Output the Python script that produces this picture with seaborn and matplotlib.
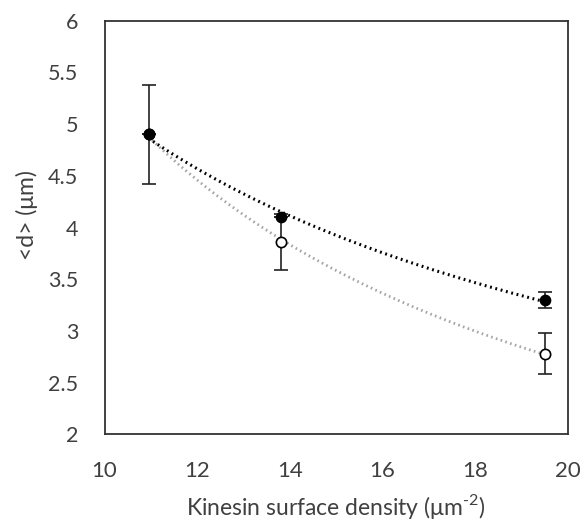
import numpy as np
import pandas as pd
import matplotlib
matplotlib.use("Agg")
import matplotlib.pyplot as plt
import seaborn as sns

# Data
density = [10.95, 13.8, 19.5]
d_filled = [4.90, 4.10, 3.30]
err_filled = [0.475, 0.0, 0.075]
d_open = [4.90, 3.86, 2.78]
err_open = [0.0, 0.27, 0.195]

xticks = [10, 12, 14, 16, 18, 20]
yticks = [2, 2.5, 3, 3.5, 4, 4.5, 5, 5.5, 6]
ytick_labels = ["2", "2.5", "3", "3.5", "4", "4.5", "5", "5.5", "6"]

sns.set_theme(style="white")
plt.rcParams['font.family'] = ['Lato', 'DejaVu Sans']
plt.rcParams['mathtext.fontset'] = 'custom'
plt.rcParams['mathtext.rm'] = 'Lato'

fig = plt.figure(figsize=(5.84, 5.25), dpi=100)
ax = fig.add_axes([104.5/584, 1-434.3/525, (567.7-104.5)/584, (434.3-20.7)/525])

# power-law trendlines (like spreadsheet trendlines) fitted to the data
def power_fit(x, y):
    b, lna = np.polyfit(np.log(x), np.log(y), 1)
    return np.exp(lna), b

xs = np.linspace(density[0], density[-1], 200)
a1, b1 = power_fit(density, d_filled)
a2, b2 = power_fit(density, d_open)
trend = pd.DataFrame({"x": np.concatenate([xs, xs]),
                      "y": np.concatenate([a1 * xs ** b1, a2 * xs ** b2]),
                      "series": ["filled"] * len(xs) + ["open"] * len(xs)})
sns.lineplot(data=trend[trend.series == "open"], x="x", y="y", ax=ax,
             color="#a6a6a6", lw=2.0, linestyle=(0, (0.6, 1.2)), legend=False)
sns.lineplot(data=trend[trend.series == "filled"], x="x", y="y", ax=ax,
             color="black", lw=2.2, linestyle=(0, (0.6, 1.2)), legend=False)

# error bars
ax.errorbar(density, d_open, yerr=err_open, fmt="none", ecolor="#222222",
            elinewidth=1.2, capsize=5, capthick=1.2, zorder=3)
ax.errorbar(density, d_filled, yerr=err_filled, fmt="none", ecolor="#222222",
            elinewidth=1.2, capsize=5, capthick=1.2, zorder=3)

pts_open = pd.DataFrame({"x": density, "y": d_open})
pts_filled = pd.DataFrame({"x": density, "y": d_filled})
sns.scatterplot(data=pts_open, x="x", y="y", ax=ax, s=55, facecolor="white",
                edgecolor="black", linewidth=1.2, zorder=4)
sns.scatterplot(data=pts_filled, x="x", y="y", ax=ax, s=55, color="black",
                edgecolor="black", linewidth=1.0, zorder=5)

ax.set_xlim(10, 20)
ax.set_ylim(2, 6)
ax.set_xticks(xticks)
ax.set_yticks(yticks)
ax.set_yticklabels(ytick_labels)
ax.tick_params(axis="both", direction="in", length=7, width=1.2, colors="#333333",
               labelcolor="#404040", pad=19)
ax.tick_params(axis="x", labelsize=16)
ax.tick_params(axis="y", labelsize=15.5)
for s in ax.spines.values():
    s.set_visible(True)
    s.set_color("#333333")
    s.set_linewidth(1.3)

ax.set_xlabel("Kinesin surface density (μm$^{\\mathregular{\u2010}2}$)", fontsize=16.5, color="#404040", labelpad=8)
ax.set_ylabel("<d> (μm)", fontsize=16.5, color="#404040")
ax.yaxis.set_label_coords(-66/463, 0.53)

fig.savefig("out.png", dpi=100)
